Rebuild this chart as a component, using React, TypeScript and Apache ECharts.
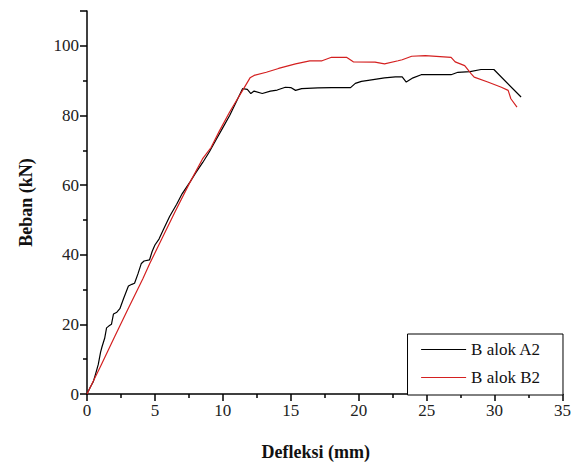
import React, { useEffect, useRef } from "react";
import * as echarts from "echarts";

const seriesNames = ["B alok A2", "B alok B2"];

const balokA2: [number, number][] = [
  [0, 0], [0.25, 2], [0.46, 3.5], [0.65, 6], [0.83, 8.5], [1.0, 12], [1.1, 13.5], [1.3, 16],
  [1.44, 19], [1.6, 19.5], [1.8, 20], [1.95, 23], [2.2, 23.5], [2.42, 24.5], [2.7, 27.5],
  [2.9, 29.5], [3.05, 31], [3.3, 31.5], [3.5, 31.8], [3.75, 34.5], [4.0, 37.5], [4.2, 38.2],
  [4.6, 38.5], [4.8, 41], [5.0, 42.8], [5.3, 44.5], [5.6, 47], [6.08, 51], [6.6, 54.5],
  [7.0, 57.5], [7.6, 61], [8.0, 63.5], [8.52, 66.5], [9.0, 69.5], [9.5, 73], [10.0, 76.5],
  [10.5, 80], [11.0, 84], [11.45, 87.7], [11.8, 87.5], [12.06, 86.3], [12.3, 87], [12.9, 86.3],
  [13.5, 87], [14.0, 87.3], [14.6, 88.1], [15.0, 88], [15.35, 87.2], [15.8, 87.7], [16.2, 87.8],
  [17, 87.9], [18, 88], [19.4, 88], [19.75, 89.2], [20.2, 89.8], [20.7, 90.1], [21.9, 90.8],
  [22.7, 91.1], [23.2, 91.1], [23.5, 89.6], [24.0, 90.8], [24.6, 91.7], [26.8, 91.7],
  [27.3, 92.4], [28.2, 92.6], [29.0, 93.2], [29.95, 93.2], [31.95, 85.3],
];

const balokB2: [number, number][] = [
  [0, 0], [1, 8], [2.05, 16.6], [3, 24.3], [4.12, 33.2], [4.61, 37.4], [5.5, 44.5], [6.5, 52.5],
  [7.5, 60.2], [8.5, 67.5], [9.13, 70.8], [9.74, 75.5], [10.5, 81], [10.96, 84], [11.5, 87.5],
  [12.0, 90.8], [12.3, 91.5], [13.2, 92.4], [14.1, 93.5], [15.35, 94.8], [16.4, 95.7],
  [17.3, 95.7], [18.0, 96.7], [19.1, 96.7], [19.6, 95.4], [21.2, 95.3], [21.9, 94.8],
  [22.9, 95.7], [23.2, 96.0], [23.9, 97.0], [24.9, 97.2], [26.8, 96.7], [27.1, 95.4],
  [27.8, 94.3], [28.3, 91.9], [28.5, 91.0], [29.5, 89.6], [30.5, 88.1], [31.0, 87.2],
  [31.2, 84.8], [31.65, 82.4],
];

const xTitle = "Defleksi (mm)";
const yTitle = "Beban (kN)";

const FONT = "'Liberation Serif', 'DejaVu Serif', serif";

export default function App() {
  const ref = useRef<HTMLDivElement>(null);
  useEffect(() => {
    if (!ref.current) return;
    const chart = echarts.init(ref.current, undefined, { renderer: "svg" });
    const axisCommon = {
      axisLine: { show: true, lineStyle: { color: "#000", width: 1.5 } },
      axisTick: { show: true, inside: false, length: 7, lineStyle: { color: "#000", width: 1.5 } },
      minorTick: { show: true, splitNumber: 2, length: 4, lineStyle: { color: "#000", width: 1.5 } },
      splitLine: { show: false },
      minorSplitLine: { show: false },
      axisLabel: { color: "#222", fontFamily: FONT, fontSize: 17, margin: 8 },
      nameLocation: "middle" as const,
      nameTextStyle: { color: "#111", fontFamily: FONT, fontSize: 18, fontWeight: "bold" as const },
    };
    chart.setOption({
      animation: false,
      backgroundColor: "#fff",
      grid: { left: 87, right: 9, top: 11, bottom: 70, containLabel: false },
      xAxis: {
        type: "value",
        min: 0,
        max: 35,
        interval: 5,
        name: xTitle,
        nameGap: 49,
        ...axisCommon,
        nameTextStyle: { ...axisCommon.nameTextStyle, padding: [0, 18, 0, 0] },
      },
      yAxis: {
        type: "value",
        min: 0,
        max: 110,
        interval: 20,
        name: yTitle,
        nameGap: 52,
        ...axisCommon,
        axisLabel: { ...axisCommon.axisLabel, showMaxLabel: false },
      },
      legend: {
        orient: "vertical",
        right: 11,
        top: 334,
        itemWidth: 45,
        itemHeight: 14,
        itemGap: 11,
        padding: [7, 22, 9, 13],
        borderColor: "#000",
        borderWidth: 1,
        borderRadius: 0,
        backgroundColor: "#fff",
        itemStyle: { opacity: 0 },
        lineStyle: { width: 1.2 },
        textStyle: { color: "#111", fontFamily: FONT, fontSize: 17 },
        data: seriesNames,
      },
      series: [
        {
          name: seriesNames[0],
          type: "line",
          data: balokA2,
          symbol: "none",
          lineStyle: { color: "#000", width: 1.2 },
          itemStyle: { color: "#000" },
        },
        {
          name: seriesNames[1],
          type: "line",
          data: balokB2,
          symbol: "none",
          lineStyle: { color: "#d42020", width: 1.2 },
          itemStyle: { color: "#d42020" },
        },
      ],
    });
    return () => chart.dispose();
  }, []);
  return (
    <div
      ref={ref}
      style={{ position: "fixed", left: 0, top: 0, width: 574, height: 466, background: "#fff" }}
    />
  );
}
